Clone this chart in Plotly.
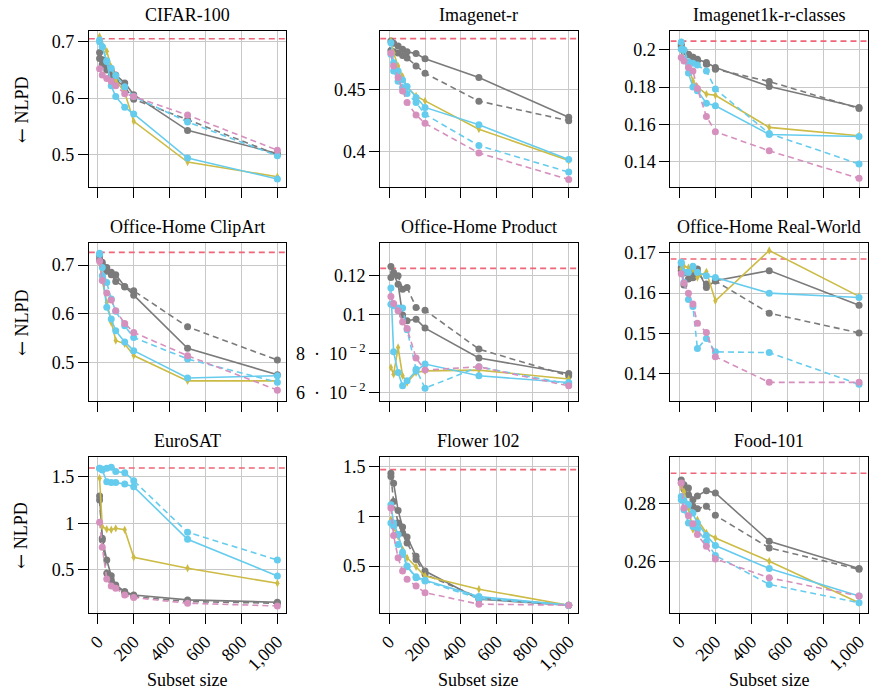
import plotly.graph_objects as go

# ---------------- data ----------------
subset_sizes = [10, 25, 50, 75, 100, 150, 200, 500, 1000]

datasets = ["CIFAR-100", "Imagenet-r", "Imagenet1k-r-classes",
            "Office-Home ClipArt", "Office-Home Product", "Office-Home Real-World",
            "EuroSAT", "Flower 102", "Food-101"]

gray_solid = {
    "CIFAR-100": [0.681, 0.668, 0.655, 0.648, 0.641, 0.627, 0.606, 0.543, 0.502],
    "Imagenet-r": [0.4897, 0.488, 0.4857, 0.483, 0.481, 0.4795, 0.4754, 0.460, 0.4276],
    "Imagenet1k-r-classes": [0.203, 0.1995, 0.1975, 0.196, 0.195, 0.1932, 0.1905, 0.1803, 0.169],
    "Office-Home ClipArt": [0.719, 0.7055, 0.695, 0.685, 0.680, 0.656, 0.638, 0.529, 0.4747],
    "Office-Home Product": [0.1248, 0.1209, 0.1157, 0.0998, 0.0969, 0.0977, 0.0931, 0.0777, 0.0698],
    "Office-Home Real-World": [0.1664, 0.162, 0.1635, 0.1638, 0.166, 0.1614, 0.1631, 0.1656, 0.157],
    "EuroSAT": [1.293, 0.839, 0.607, 0.439, 0.339, 0.268, 0.232, 0.179, 0.154],
    "Flower 102": [1.433, 1.333, 1.06, 0.893, 0.793, 0.60, 0.45, 0.167, 0.107],
    "Food-101": [0.2882, 0.2865, 0.2854, 0.2814, 0.2827, 0.2845, 0.2837, 0.2671, 0.2577],
}

gray_dashed = {
    "CIFAR-100": [0.670, 0.660, 0.650, 0.640, 0.632, 0.620, 0.598, 0.562, 0.500],
    "Imagenet-r": [0.482, 0.481, 0.480, 0.478, 0.476, 0.4695, 0.4635, 0.4408, 0.4249],
    "Imagenet1k-r-classes": [0.202, 0.199, 0.1977, 0.196, 0.1944, 0.1923, 0.1896, 0.183, 0.1685],
    "Office-Home ClipArt": [0.712, 0.700, 0.687, 0.680, 0.666, 0.655, 0.647, 0.573, 0.5048],
    "Office-Home Product": [0.1191, 0.1217, 0.120, 0.1131, 0.114, 0.1037, 0.1023, 0.0823, 0.0686],
    "Office-Home Real-World": [0.1656, 0.165, 0.1652, 0.1652, 0.1652, 0.1623, 0.163, 0.155, 0.1501],
    "EuroSAT": [1.25, 0.82, 0.464, 0.393, 0.32, 0.26, 0.214, 0.161, 0.143],
    "Flower 102": [1.40, 1.15, 0.933, 0.833, 0.733, 0.567, 0.417, 0.183, 0.107],
    "Food-101": [0.2871, 0.285, 0.2831, 0.2791, 0.2783, 0.2791, 0.276, 0.2648, 0.2574],
}

yellow_solid = {
    "CIFAR-100": [0.709, 0.695, 0.683, 0.655, 0.632, 0.610, 0.559, 0.487, 0.461],
    "Imagenet-r": [0.4897, 0.480, 0.4695, 0.461, 0.452, 0.445, 0.441, 0.418, 0.3924],
    "Imagenet1k-r-classes": [0.204, 0.195, 0.1914, 0.1833, 0.180, 0.1762, 0.1756, 0.1583, 0.1538],
    "Office-Home ClipArt": [0.705, 0.668, 0.623, 0.582, 0.545, 0.538, 0.514, 0.462, 0.462],
    "Office-Home Product": [0.0729, 0.0694, 0.0831, 0.0686, 0.0651, 0.0703, 0.0711, 0.0715, 0.0669],
    "Office-Home Real-World": [0.166, 0.1667, 0.1663, 0.166, 0.1639, 0.1653, 0.1581, 0.1706, 0.1592],
    "EuroSAT": [1.482, 0.964, 0.936, 0.930, 0.946, 0.930, 0.636, 0.518, 0.357],
    "Flower 102": [0.967, 0.883, 0.80, 0.667, 0.583, 0.493, 0.40, 0.267, 0.107],
    "Food-101": [0.2859, 0.2842, 0.2785, 0.2711, 0.2745, 0.2699, 0.2682, 0.2602, 0.2459],
}

cyan_solid = {
    "CIFAR-100": [0.703, 0.691, 0.666, 0.622, 0.603, 0.584, 0.572, 0.494, 0.457],
    "Imagenet-r": [0.4884, 0.472, 0.4654, 0.458, 0.4527, 0.4438, 0.4357, 0.4216, 0.3932],
    "Imagenet1k-r-classes": [0.2004, 0.195, 0.1875, 0.180, 0.178, 0.1713, 0.1699, 0.1545, 0.1534],
    "Office-Home ClipArt": [0.724, 0.678, 0.613, 0.589, 0.565, 0.542, 0.524, 0.468, 0.4726],
    "Office-Home Product": [0.1137, 0.0809, 0.0703, 0.0634, 0.066, 0.0711, 0.0746, 0.0686, 0.0651],
    "Office-Home Real-World": [0.1677, 0.1652, 0.1652, 0.1667, 0.1652, 0.1643, 0.1639, 0.160, 0.1589],
    "EuroSAT": [1.589, 1.571, 1.446, 1.436, 1.436, 1.421, 1.393, 0.829, 0.436],
    "Flower 102": [1.117, 0.933, 0.817, 0.64, 0.493, 0.393, 0.357, 0.193, 0.107],
    "Food-101": [0.2825, 0.2811, 0.2797, 0.2768, 0.2734, 0.2691, 0.2656, 0.2577, 0.2482],
}

cyan_dashed = {
    "CIFAR-100": [0.700, 0.691, 0.665, 0.653, 0.640, 0.620, 0.603, 0.558, 0.498],
    "Imagenet-r": [0.479, 0.4654, 0.457, 0.452, 0.447, 0.4397, 0.430, 0.4046, 0.383],
    "Imagenet1k-r-classes": [0.2043, 0.200, 0.1936, 0.1928, 0.1918, 0.1887, 0.1789, 0.155, 0.1386],
    "Office-Home ClipArt": [0.722, 0.695, 0.664, 0.630, 0.605, 0.575, 0.551, 0.507, 0.459],
    "Office-Home Product": [0.1054, 0.1046, 0.1034, 0.1034, 0.0922, 0.072, 0.0622, 0.0732, 0.0643],
    "Office-Home Real-World": [0.1675, 0.1627, 0.1584, 0.1567, 0.1462, 0.1487, 0.1454, 0.1452, 0.1373],
    "EuroSAT": [1.589, 1.580, 1.589, 1.600, 1.554, 1.543, 1.457, 0.904, 0.607],
    "Flower 102": [0.933, 0.90, 0.717, 0.617, 0.50, 0.383, 0.35, 0.173, 0.107],
    "Food-101": [0.2814, 0.2779, 0.2734, 0.2722, 0.2711, 0.2669, 0.2622, 0.2522, 0.2459],
}

pink_dashed = {
    "CIFAR-100": [0.652, 0.641, 0.635, 0.630, 0.622, 0.608, 0.603, 0.570, 0.508],
    "Imagenet-r": [0.480, 0.4695, 0.460, 0.449, 0.4397, 0.4295, 0.4227, 0.3986, 0.377],
    "Imagenet1k-r-classes": [0.1959, 0.194, 0.1905, 0.1887, 0.1792, 0.1642, 0.156, 0.1457, 0.1309],
    "Office-Home ClipArt": [0.7075, 0.668, 0.6425, 0.628, 0.606, 0.580, 0.5616, 0.5137, 0.443],
    "Office-Home Product": [0.1094, 0.1058, 0.102, 0.0963, 0.0929, 0.0777, 0.0715, 0.0732, 0.0634],
    "Office-Home Real-World": [0.1648, 0.1625, 0.160, 0.1573, 0.1525, 0.1502, 0.1442, 0.1378, 0.1378],
    "EuroSAT": [1.011, 0.743, 0.404, 0.329, 0.304, 0.232, 0.204, 0.143, 0.114],
    "Flower 102": [1.083, 0.807, 0.583, 0.45, 0.367, 0.30, 0.233, 0.117, 0.107],
    "Food-101": [0.2871, 0.2785, 0.2759, 0.2731, 0.2694, 0.2654, 0.261, 0.2545, 0.2482],
}

reference_nlpd = {
    "CIFAR-100": 0.705, "Imagenet-r": 0.4917, "Imagenet1k-r-classes": 0.2047,
    "Office-Home ClipArt": 0.726, "Office-Home Product": 0.1238, "Office-Home Real-World": 0.1685,
    "EuroSAT": 1.592, "Flower 102": 1.47, "Food-101": 0.2905,
}

y_tick_values = {
    "CIFAR-100": [0.5, 0.6, 0.7],
    "Imagenet-r": [0.4, 0.45],
    "Imagenet1k-r-classes": [0.14, 0.16, 0.18, 0.2],
    "Office-Home ClipArt": [0.5, 0.6, 0.7],
    "Office-Home Product": [0.06, 0.08, 0.1, 0.12],
    "Office-Home Real-World": [0.14, 0.15, 0.16, 0.17],
    "EuroSAT": [0.5, 1.0, 1.5],
    "Flower 102": [0.5, 1.0, 1.5],
    "Food-101": [0.26, 0.28],
}
y_tick_labels = {
    "CIFAR-100": ["0.5", "0.6", "0.7"],
    "Imagenet-r": ["0.4", "0.45"],
    "Imagenet1k-r-classes": ["0.14", "0.16", "0.18", "0.2"],
    "Office-Home ClipArt": ["0.5", "0.6", "0.7"],
    "Office-Home Product": ["6\u2002·\u200210<sup>\u2009−\u20092</sup>",
                            "8\u2002·\u200210<sup>\u2009−\u20092</sup>", "0.1", "0.12"],
    "Office-Home Real-World": ["0.14", "0.15", "0.16", "0.17"],
    "EuroSAT": ["0.5", "1", "1.5"],
    "Flower 102": ["0.5", "1", "1.5"],
    "Food-101": ["0.26", "0.28"],
}
y_ranges = {
    "CIFAR-100": [0.442, 0.719],
    "Imagenet-r": [0.3705, 0.498],
    "Imagenet1k-r-classes": [0.126, 0.2102],
    "Office-Home ClipArt": [0.421, 0.7446],
    "Office-Home Product": [0.0557, 0.1367],
    "Office-Home Real-World": [0.1332, 0.1724],
    "EuroSAT": [0.036, 1.714],
    "Flower 102": [0.026, 1.60],
    "Food-101": [0.2423, 0.2962],
}

x_range = [-50, 1050]
x_tick_values = [0, 200, 400, 600, 800, 1000]
x_tick_labels = ["0", "200", "400", "600", "800", "1,000"]
x_title = "Subset size"
y_title = "<span style='font-family:DejaVu Serif'>←</span> NLPD"

# ---------------- styling ----------------
FONT = "Liberation Serif"
GRAY = "#7b7b7b"
YELLOW = "#CCBB44"
CYAN = "#66CCEE"
PINK = "#D690BE"
RED = "#EE6677"
DASH = "6px,4px"

series = [
    (gray_solid, GRAY, "solid", "circle", 7),
    (gray_dashed, GRAY, DASH, "circle", 7),
    (yellow_solid, YELLOW, "solid", "diamond-tall", 6),
    (cyan_solid, CYAN, "solid", "circle", 7),
    (cyan_dashed, CYAN, DASH, "circle", 7),
    (pink_dashed, PINK, DASH, "circle", 7),
]

W, H = 876, 693
col_px = [(87, 285), (379, 577), (670, 868)]
row_px = [(31, 188), (244, 402), (458, 615)]

fig = go.Figure()
annotations = []
layout_axes = {}

for i, name in enumerate(datasets):
    r, c = divmod(i, 3)
    n = i + 1
    xs = "" if n == 1 else str(n)
    xa, ya = "x" + xs, "y" + xs
    x0, x1 = col_px[c]
    y0, y1 = row_px[r]
    xdom = [x0 / W, x1 / W]
    ydom = [1 - y1 / H, 1 - y0 / H]

    # reference (horizontal) line across the full axis range
    fig.add_trace(go.Scatter(
        x=x_range, y=[reference_nlpd[name]] * 2, mode="lines",
        line=dict(color=RED, width=1.6, dash=DASH),
        xaxis=xa, yaxis=ya, showlegend=False, hoverinfo="skip",
    ))

    for data, color, dash, sym, msize in series:
        fig.add_trace(go.Scatter(
            x=subset_sizes, y=data[name], mode="lines+markers",
            line=dict(color=color, width=1.6, dash=dash),
            marker=dict(color=color, symbol=sym, size=msize, line=dict(width=0)),
            xaxis=xa, yaxis=ya, showlegend=False, hoverinfo="skip",
        ))

    common = dict(showline=True, mirror=True, linecolor="black", linewidth=1,
                  showgrid=True, gridcolor="#c8c8c8", gridwidth=1, zeroline=False,
                  ticks="outside", ticklen=10, tickcolor="black", tickwidth=1,
                  tickfont=dict(family=FONT, size=18, color="black"))
    layout_axes["xaxis" + xs] = dict(common, domain=xdom, anchor=ya, range=x_range,
                                     tickmode="array", tickvals=x_tick_values,
                                     ticktext=x_tick_labels, tickangle=-45,
                                     showticklabels=(r == 2))
    layout_axes["yaxis" + xs] = dict(common, domain=ydom, anchor=xa, range=y_ranges[name],
                                     tickmode="array", tickvals=y_tick_values[name],
                                     ticktext=y_tick_labels[name])

    annotations.append(dict(text=name, xref="paper", yref="paper",
                            x=(x0 + x1) / 2 / W, y=1 - (y0 - 16) / H,
                            xanchor="center", yanchor="middle", showarrow=False,
                            font=dict(family=FONT, size=18, color="black")))
    if c == 0:
        annotations.append(dict(text=y_title, xref="paper", yref="paper",
                                x=19 / W, y=1 - (y0 + y1) / 2 / H, textangle=-90,
                                xanchor="center", yanchor="middle", showarrow=False,
                                font=dict(family=FONT, size=18, color="black")))
    if r == 2:
        annotations.append(dict(text=x_title, xref="paper", yref="paper",
                                x=(x0 + x1) / 2 / W, y=1 - 682 / H,
                                xanchor="center", yanchor="middle", showarrow=False,
                                font=dict(family=FONT, size=18, color="black")))

fig.update_layout(
    width=W, height=H, margin=dict(l=0, r=0, t=0, b=0),
    paper_bgcolor="white", plot_bgcolor="white",
    annotations=annotations, showlegend=False,
    font=dict(family=FONT, color="black"),
    **layout_axes,
)

fig.write_html("out.html")
